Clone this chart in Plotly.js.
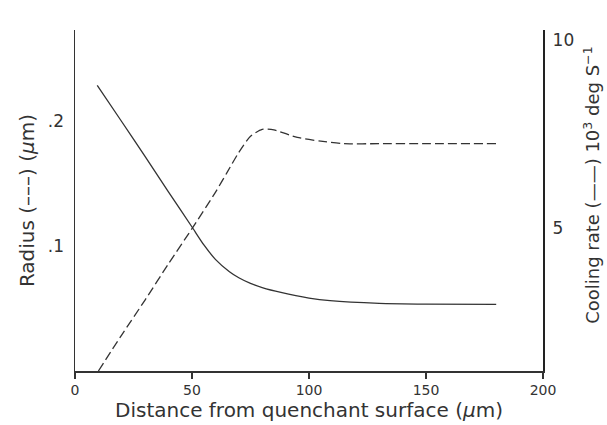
<!DOCTYPE html>
<html>
<head>
<meta charset="utf-8">
<script src="https://cdn.plot.ly/plotly-3.0.1.min.js"></script>
<style>html,body{margin:0;padding:0;background:#fff;}</style>
</head>
<body>
<div id="chart" style="width:607px;height:425px;"></div>
<script>
// Radius (dashed, left axis, µm)
const radiusX = [10, 20, 30, 40, 50, 60, 65, 70, 75, 80, 85, 95, 105, 115, 130, 150, 180];
const radiusY = [0, 0.029, 0.057, 0.086, 0.114, 0.143, 0.159, 0.175, 0.188, 0.1935, 0.193, 0.187, 0.184, 0.182, 0.182, 0.182, 0.182];
// Cooling rate (solid, right axis, 10^3 deg/s)
const coolX = [9.5, 20, 30, 40, 50, 55, 60, 66, 70, 75, 80, 88, 100, 109, 130, 150, 180];
const coolY = [8.80, 7.83, 6.90, 5.96, 5.03, 4.56, 4.17, 3.84, 3.68, 3.53, 3.42, 3.29, 3.14, 3.07, 3.00, 2.98, 2.97];
const xTicks = [0, 50, 100, 150, 200];
const leftTicks = [0.1, 0.2];
const leftTickText = ['.1', '.2'];
const rightTicks = [5, 10];
const rightTickText = ['5', '10'];

const fontFam = 'DejaVu Sans, sans-serif';
const ink = '#333';

const traces = [
  {x: radiusX, y: radiusY, type: 'scatter', mode: 'lines', line: {color: ink, width: 1.3, dash: '9px,4px', shape: 'spline', smoothing: 0.6}, yaxis: 'y', hoverinfo: 'none'},
  {x: coolX, y: coolY, type: 'scatter', mode: 'lines', line: {color: ink, width: 1.3, shape: 'spline', smoothing: 0.6}, yaxis: 'y2', hoverinfo: 'none'}
];

const layout = {
  width: 607, height: 425,
  margin: {l: 75, r: 64, t: 30, b: 54},
  paper_bgcolor: '#fff', plot_bgcolor: '#fff',
  showlegend: false,
  font: {family: fontFam, color: ink},
  xaxis: {
    range: [0, 200], tickvals: xTicks, ticks: 'outside', ticklen: 6, tickcolor: ink, tickwidth: 1.2,
    showline: true, linecolor: ink, linewidth: 1.5, showgrid: false, zeroline: false,
    tickfont: {size: 14, family: fontFam, color: ink},
    title: {text: 'Distance from quenchant surface (<i>μ</i>m)', font: {size: 20, family: fontFam, color: ink}, standoff: 2}
  },
  yaxis: {
    range: [0, 0.273], tickvals: leftTicks, ticktext: leftTickText, ticks: '', ticklabelstandoff: 6,
    showline: true, linecolor: ink, linewidth: 1.5, showgrid: false, zeroline: false,
    tickfont: {size: 17, family: fontFam, color: ink},
    title: {text: 'Radius (–––) (<i>μ</i>m)', font: {size: 20, family: fontFam, color: ink}, standoff: 8}
  },
  yaxis2: {
    range: [1.2, 10.27], tickvals: rightTicks, ticktext: rightTickText, ticks: '',
    overlaying: 'y', side: 'right', ticklabelstandoff: 4,
    showline: true, linecolor: '#222', linewidth: 2.2, showgrid: false, zeroline: false,
    tickfont: {size: 17, family: fontFam, color: ink}
  },
  annotations: [{
    text: 'Cooling rate (——) 10<sup>3</sup> deg S<sup>−1</sup>',
    xref: 'paper', yref: 'paper', x: 1.104, y: 0.545, xanchor: 'center', yanchor: 'middle',
    textangle: -90, showarrow: false, font: {size: 18, family: fontFam, color: ink}
  }]
};

Plotly.newPlot('chart', traces, layout, {staticPlot: true, displayModeBar: false});
</script>
</body>
</html>
